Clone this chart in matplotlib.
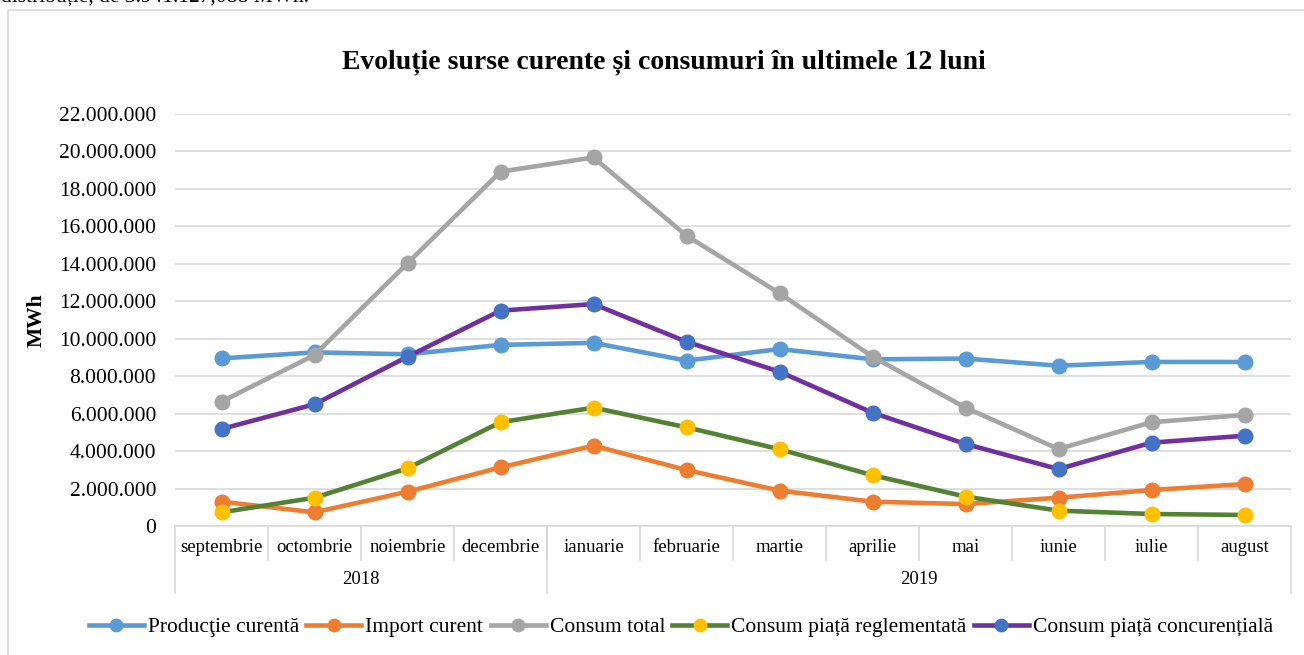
import matplotlib
matplotlib.use("Agg")
import matplotlib.pyplot as plt
from matplotlib.ticker import FuncFormatter, MultipleLocator
from matplotlib.patches import Rectangle

plt.rcParams['font.family'] = ['Liberation Serif', 'DejaVu Serif']

luni = ['septembrie', 'octombrie', 'noiembrie', 'decembrie', 'ianuarie', 'februarie',
        'martie', 'aprilie', 'mai', 'iunie', 'iulie', 'august']
ani = ['2018', '2019']
luni_pe_an = [4, 8]

# milioane MWh
productie = [8.95, 9.27, 9.17, 9.67, 9.78, 8.83, 9.45, 8.90, 8.94, 8.56, 8.76, 8.76]
importc = [1.30, 0.73, 1.83, 3.13, 4.29, 2.99, 1.89, 1.30, 1.17, 1.51, 1.92, 2.24]
consum_total = [6.64, 9.13, 14.03, 18.92, 19.68, 15.50, 12.43, 9.04, 6.32, 4.11, 5.54, 5.93]
consum_regl = [0.73, 1.51, 3.08, 5.54, 6.32, 5.27, 4.10, 2.71, 1.57, 0.82, 0.64, 0.59]
consum_conc = [5.18, 6.50, 9.04, 11.50, 11.85, 9.84, 8.24, 6.05, 4.38, 3.04, 4.45, 4.82]

serii = [
    ('Producţie curentă', productie, '#5B9BD5', '#5B9BD5'),
    ('Import curent', importc, '#ED7D31', '#ED7D31'),
    ('Consum total', consum_total, '#A5A5A5', '#A5A5A5'),
    ('Consum piață reglementată', consum_regl, '#548235', '#FFC000'),
    ('Consum piață concurențială', consum_conc, '#7030A0', '#4472C4'),
]

W, H = 1304, 655
fig = plt.figure(figsize=(W / 100, H / 100), dpi=100)

# chenarul graficului si textul taiat de deasupra
fig.patches.append(Rectangle((8 / W, -0.01), 1.02, 1 - 10 / H + 0.01, transform=fig.transFigure,
                             fill=False, edgecolor='#D9D9D9', linewidth=1.2))
fig.text(1 / W, 1 - 2 / H, 'distribuție, de 3.941.127,088 MWh.', fontsize=15.5, va='baseline', ha='left')

x0, x1, y0, y1 = 175, 1291, 526, 114
ax = fig.add_axes([x0 / W, 1 - y0 / H, (x1 - x0) / W, (y0 - y1) / H])

xs = list(range(len(luni)))
handles = []
for nume, vals, cl, cm in serii:
    h, = ax.plot(xs, [v * 1e6 for v in vals], color=cl, linewidth=3.3, marker='o',
                 markersize=10.5, markerfacecolor=cm, markeredgecolor=cm, label=nume,
                 clip_on=False, zorder=3)
    handles.append(h)

ax.set_xlim(-0.5, len(luni) - 0.5)
ax.set_ylim(0, 22e6)
ax.yaxis.set_major_locator(MultipleLocator(2e6))
ax.yaxis.set_major_formatter(FuncFormatter(lambda v, p: f'{int(v):,}'.replace(',', '.')))
ax.grid(axis='y', color='#D9D9D9', linewidth=1.2)
ax.set_axisbelow(True)
for s in ['top', 'right', 'left']:
    ax.spines[s].set_visible(False)
ax.spines['bottom'].set_color('#D9D9D9')
ax.spines['bottom'].set_linewidth(1.2)
ax.tick_params(axis='y', length=0, labelsize=15.5, pad=13.5)
ax.set_xticks([])
ax.set_ylabel('MWh', fontsize=15.5, fontweight='bold', labelpad=9)

# axa de categorii pe doua nivele
trans = ax.get_xaxis_transform()
row1 = -(560 - y0) / (y0 - y1)
row2 = -(593 - y0) / (y0 - y1)
for i, l in enumerate(luni):
    ax.text(i, -(548 - y0) / (y0 - y1), l, transform=trans, ha='center', va='center', fontsize=13.5)
for b in range(1, len(luni)):
    ax.plot([b - 0.5, b - 0.5], [0, row1], transform=trans, color='#D9D9D9', linewidth=1.2, clip_on=False)
start = 0
edges = [-0.5]
for an, n in zip(ani, luni_pe_an):
    ax.text(start + (n - 1) / 2, -(580 - y0) / (y0 - y1), an, transform=trans,
            ha='center', va='center', fontsize=13.5)
    start += n
    edges.append(start - 0.5)
for e in edges:
    ax.plot([e, e], [0, row2], transform=trans, color='#D9D9D9', linewidth=1.2, clip_on=False)

fig.text(664 / W, 1 - 62 / H, 'Evoluție surse curente și consumuri în ultimele 12 luni',
         ha='center', va='center', fontsize=20, fontweight='bold')

fig.legend(handles=handles, loc='center', bbox_to_anchor=(681 / W, 1 - 627 / H), ncol=5,
           frameon=False, fontsize=15.5, handlelength=2.55, handletextpad=0.19, columnspacing=0.34,
           markerscale=0.85)

fig.savefig('out.png', dpi=100)
